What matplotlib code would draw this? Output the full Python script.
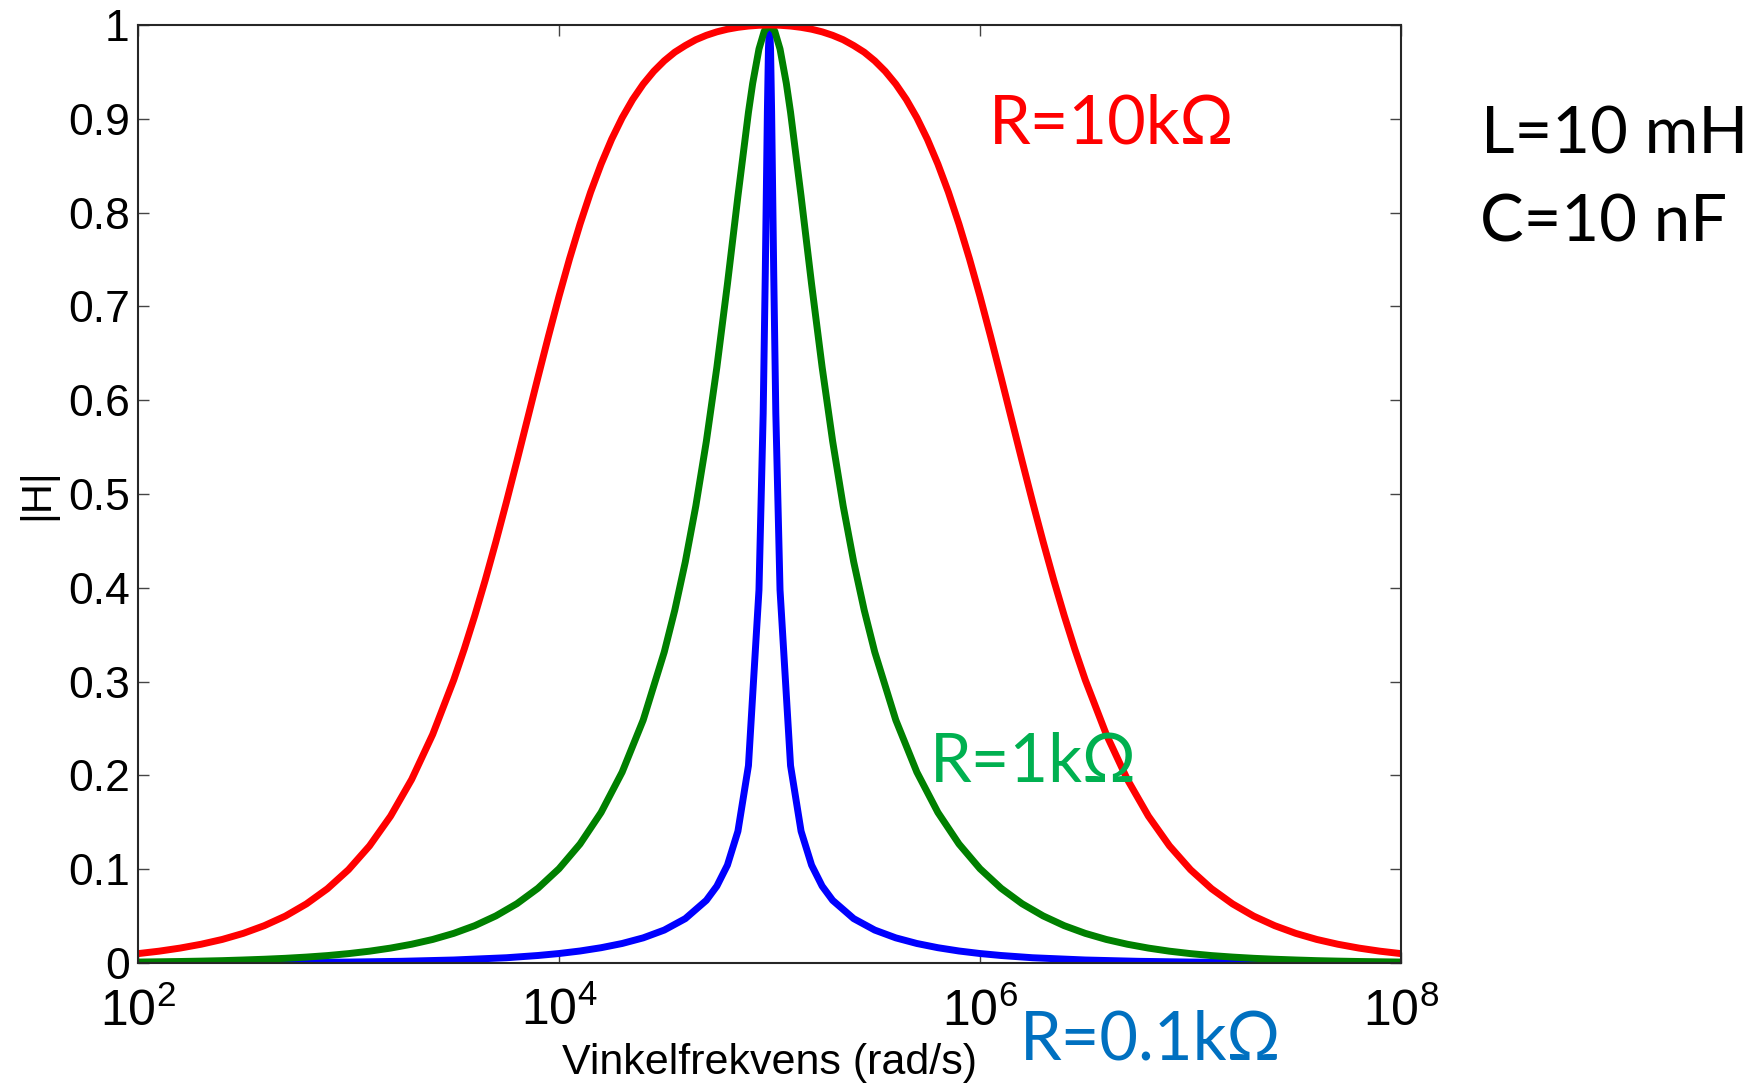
import numpy as np
import matplotlib
matplotlib.use("Agg")
import matplotlib.pyplot as plt
from matplotlib.ticker import FixedLocator, NullLocator

# log10 of angular frequency (rad/s) and |H|
red_exp = [2.0, 2.1, 2.2, 2.3, 2.4, 2.5, 2.6, 2.7, 2.8, 2.9, 3.0, 3.1, 3.2, 3.3, 3.4,
           3.5, 3.55, 3.6, 3.65, 3.7, 3.75, 3.8, 3.85, 3.9, 3.95,
           4.0, 4.05, 4.1, 4.15, 4.2, 4.25, 4.3, 4.35, 4.4, 4.45,
           4.5, 4.55, 4.6, 4.65, 4.7, 4.75, 4.8, 4.85, 4.9, 4.95,
           5.0,
           5.05, 5.1, 5.15, 5.2, 5.25, 5.3, 5.35, 5.4, 5.45, 5.5,
           5.55, 5.6, 5.65, 5.7, 5.75, 5.8, 5.85, 5.9, 5.95, 6.0,
           6.05, 6.1, 6.15, 6.2, 6.25, 6.3, 6.35, 6.4, 6.45, 6.5,
           6.6, 6.7, 6.8, 6.9, 7.0, 7.1, 7.2, 7.3, 7.4, 7.5, 7.6, 7.7, 7.8, 7.9, 8.0]
red_h = [0.0100, 0.0126, 0.0159, 0.0200, 0.0251, 0.0316, 0.0398, 0.0500, 0.0630, 0.0792,
         0.0995, 0.1249, 0.1566, 0.1957, 0.2437,
         0.3018, 0.3348, 0.3704, 0.4085, 0.4490, 0.4913, 0.5351, 0.5797, 0.6244, 0.6683,
         0.7107, 0.7507, 0.7878, 0.8217, 0.8517, 0.8782, 0.9011, 0.9206, 0.9370, 0.9506,
         0.9618, 0.9710, 0.9781, 0.9843, 0.9890, 0.9927, 0.9955, 0.9975, 0.9989, 0.9997,
         1.0,
         0.9997, 0.9989, 0.9975, 0.9955, 0.9927, 0.9890, 0.9843, 0.9781, 0.9710, 0.9618,
         0.9506, 0.9370, 0.9206, 0.9011, 0.8782, 0.8517, 0.8217, 0.7878, 0.7507, 0.7107,
         0.6683, 0.6244, 0.5797, 0.5351, 0.4913, 0.4490, 0.4085, 0.3704, 0.3348, 0.3018,
         0.2437, 0.1957, 0.1566, 0.1249, 0.0995, 0.0792, 0.0630, 0.0500, 0.0398, 0.0316,
         0.0251, 0.0200, 0.0159, 0.0126, 0.0100]

green_exp = [2.0, 2.1, 2.2, 2.3, 2.4, 2.5, 2.6, 2.7, 2.8, 2.9,
             3.0, 3.1, 3.2, 3.3, 3.4, 3.5, 3.6, 3.7, 3.8, 3.9,
             4.0, 4.1, 4.2, 4.3, 4.4, 4.5,
             4.55, 4.6, 4.65, 4.7, 4.75, 4.8, 4.85, 4.9, 4.92, 4.95, 4.975,
             5.0,
             5.025, 5.05, 5.08, 5.1, 5.15, 5.2, 5.25, 5.3, 5.35, 5.4, 5.45,
             5.5, 5.6, 5.7, 5.8, 5.9, 6.0, 6.1, 6.2, 6.3, 6.4, 6.5, 6.6, 6.7,
             6.8, 6.9, 7.0, 7.1, 7.2, 7.3, 7.4, 7.5, 7.6, 7.7, 7.8, 7.9, 8.0]
green_h = [0.0010, 0.0013, 0.0016, 0.0020, 0.0025, 0.0032, 0.0040, 0.0050, 0.0063, 0.0079,
           0.0100, 0.0126, 0.0159, 0.0200, 0.0251, 0.0316, 0.0398, 0.0502, 0.0632, 0.0797,
           0.1005, 0.1269, 0.1605, 0.2035, 0.2590, 0.3315,
           0.3761, 0.4276, 0.4873, 0.5562, 0.6352, 0.7236, 0.8175, 0.9069, 0.9377, 0.9744, 0.9934,
           1.0,
           0.9934, 0.9744, 0.9377, 0.9069, 0.8175, 0.7236, 0.6352, 0.5562, 0.4873, 0.4276, 0.3761,
           0.3315, 0.2590, 0.2035, 0.1605, 0.1269, 0.1005, 0.0797, 0.0632, 0.0502, 0.0398,
           0.0316, 0.0251, 0.0200, 0.0159, 0.0126, 0.0100, 0.0079, 0.0063, 0.0050, 0.0040,
           0.0032, 0.0025, 0.0020, 0.0016, 0.0013, 0.0010]

blue_exp = [2.0, 2.5, 3.0, 3.25, 3.5, 3.75, 3.9, 4.0, 4.1, 4.2, 4.3, 4.4, 4.5, 4.6,
            4.7, 4.75, 4.8, 4.85, 4.9, 4.95, 4.97, 4.98, 4.99, 4.995,
            5.0,
            5.005, 5.01, 5.02, 5.03, 5.05, 5.1, 5.15, 5.2, 5.25, 5.3,
            5.4, 5.5, 5.6, 5.7, 5.8, 5.9, 6.0, 6.1, 6.25, 6.5, 6.75, 7.0, 7.5, 8.0]
blue_h = [0.0001, 0.0003, 0.0010, 0.0018, 0.0032, 0.0056, 0.0080, 0.0101, 0.0128, 0.0163,
          0.0208, 0.0268, 0.0351, 0.0473, 0.0668, 0.0820, 0.1043, 0.1405, 0.2104, 0.3977,
          0.5862, 0.7356, 0.9082, 0.9746,
          1.0,
          0.9746, 0.9082, 0.7356, 0.5862, 0.3977, 0.2104, 0.1405, 0.1043, 0.0820, 0.0668,
          0.0473, 0.0351, 0.0268, 0.0208, 0.0163, 0.0128, 0.0101, 0.0080, 0.0056, 0.0032,
          0.0018, 0.0010, 0.0003, 0.0001]

x_ticks = [1e2, 1e4, 1e6, 1e8]
y_ticks = [0, 0.1, 0.2, 0.3, 0.4, 0.5, 0.6, 0.7, 0.8, 0.9, 1]
y_ticklabels = ["0", "0.1", "0.2", "0.3", "0.4", "0.5", "0.6", "0.7", "0.8", "0.9", "1"]

plt.rcParams["font.family"] = ["Liberation Sans", "DejaVu Sans"]

W, H = 1762, 1084
fig = plt.figure(figsize=(W / 100, H / 100), dpi=100)
ax = fig.add_axes([138 / W, 1 - 963 / H, (1401 - 138) / W, (963 - 25) / H])

ax.plot(np.power(10.0, blue_exp), blue_h, color="#0000ff", lw=5)
ax.plot(np.power(10.0, green_exp), green_h, color="#008000", lw=5)
ax.plot(np.power(10.0, red_exp), red_h, color="#ff0000", lw=5)

ax.set_xscale("log")
ax.set_xlim(1e2, 1e8)
ax.set_ylim(0, 1)
ax.xaxis.set_major_locator(FixedLocator(x_ticks))
ax.xaxis.set_minor_locator(NullLocator())
ax.set_yticks(y_ticks)
ax.set_yticklabels(y_ticklabels)

ax.tick_params(direction="in", length=8, width=1, color="#444444",
               top=True, right=True, labelsize=32)
ax.tick_params(axis="x", pad=18, labelsize=36)
ax.tick_params(axis="y", pad=6)
for s in ax.spines.values():
    s.set_color("#262626")
    s.set_linewidth(1.5)

ax.set_xlabel("Vinkelfrekvens (rad/s)", fontsize=31)
ax.xaxis.set_label_coords(0.5, -0.085)
ax.set_ylabel("|H|", fontsize=30)
ax.yaxis.set_label_coords(-0.064, 0.5)

note_font = ["Lato", "DejaVu Sans"]
fig.text(989 / W, 1 - 143 / H, "R=10kΩ", color="#ff0000", fontsize=48,
         family=note_font, ha="left", va="baseline")
fig.text(930 / W, 1 - 782 / H, "R=1kΩ", color="#00b050", fontsize=48,
         family=note_font, ha="left", va="baseline")
fig.text(1020 / W, 1 - 1060 / H, "R=0.1kΩ", color="#0070c0", fontsize=48,
         family=note_font, ha="left", va="baseline")
fig.text(1481 / W, 1 - 153 / H, "L=10 mH", color="black", fontsize=47,
         family=note_font, ha="left", va="baseline")
fig.text(1480 / W, 1 - 242 / H, "C=10 nF", color="black", fontsize=47,
         family=note_font, ha="left", va="baseline")

fig.savefig("out.png", dpi=100)
